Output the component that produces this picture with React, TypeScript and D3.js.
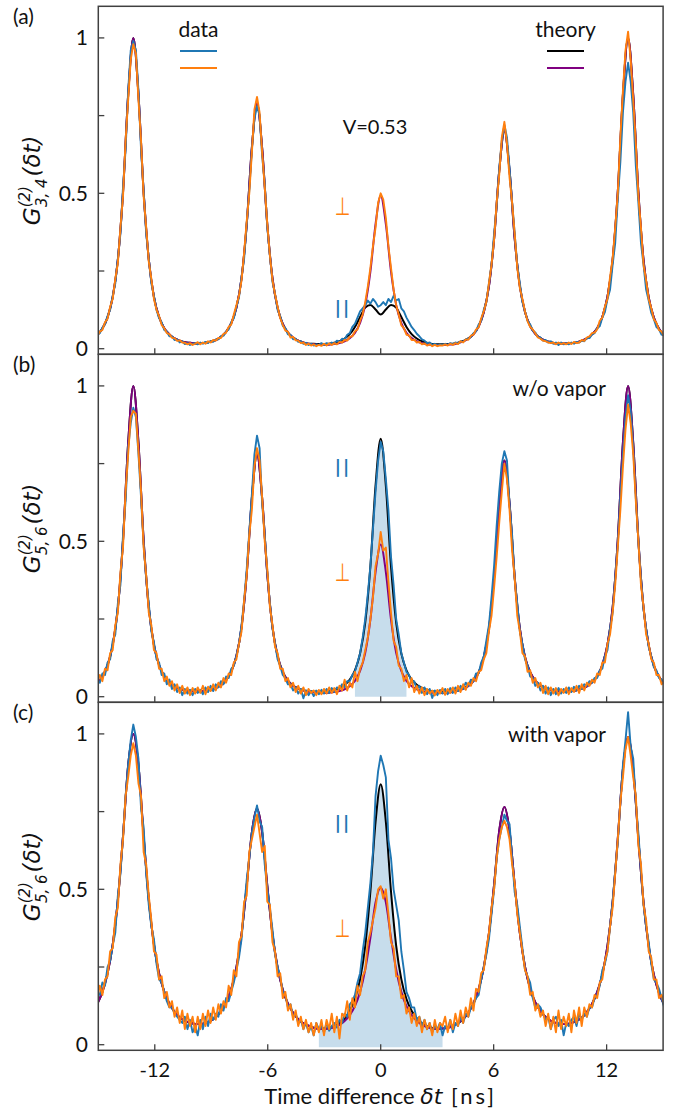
import React from "react";
import * as d3 from "d3";

// Theory curves are sampled every STEP_NS, data every DATA_STEP_NS, both centred on δt = 0
const STEP_NS = 0.27375;
const DATA_STEP_NS = 0.136875;

// ---------- panel (a) ----------
const thA_perp = [
  0.044, 0.065, 0.101, 0.166, 0.286, 0.503, 0.816, 1.0,
  0.817, 0.504, 0.287, 0.167, 0.102, 0.066, 0.046, 0.033, 0.026, 0.021, 0.019, 0.017, 0.018, 0.019, 0.023, 0.028, 0.038, 0.054, 0.082, 0.132, 0.227, 0.399, 0.646,
  0.79,
  0.645, 0.398, 0.226, 0.131, 0.08, 0.052, 0.036, 0.026, 0.02, 0.016, 0.014, 0.012, 0.012, 0.013, 0.015, 0.018, 0.024, 0.034, 0.051, 0.083, 0.141, 0.248, 0.401,
  0.492,
  0.401, 0.248, 0.141, 0.082, 0.051, 0.034, 0.024, 0.018, 0.014, 0.012, 0.012, 0.012, 0.013, 0.014, 0.018, 0.023, 0.032, 0.046, 0.071, 0.117, 0.2, 0.353, 0.572,
  0.701,
  0.573, 0.354, 0.201, 0.118, 0.073, 0.048, 0.034, 0.025, 0.021, 0.017, 0.017, 0.017, 0.018, 0.02, 0.026, 0.033, 0.046, 0.066, 0.102, 0.167, 0.286, 0.504, 0.817,
  1.0,
  0.816, 0.503, 0.285, 0.165, 0.1, 0.064, 0.043,
];
const thA_par = [
  0.044, 0.065, 0.101, 0.166, 0.286, 0.503, 0.816, 1.0,
  0.817, 0.504, 0.287, 0.167, 0.102, 0.066, 0.046, 0.033, 0.026, 0.021, 0.019, 0.017, 0.018, 0.019, 0.023, 0.028, 0.038, 0.054, 0.082, 0.132, 0.227, 0.399, 0.646,
  0.79,
  0.645, 0.398, 0.226, 0.131, 0.08, 0.052, 0.036, 0.026, 0.02, 0.016, 0.016, 0.015, 0.015, 0.016, 0.019, 0.024, 0.033, 0.047, 0.07, 0.102, 0.132, 0.141, 0.126,
  0.11,
  0.126, 0.141, 0.132, 0.102, 0.07, 0.047, 0.033, 0.024, 0.019, 0.015, 0.014, 0.014, 0.015, 0.016, 0.019, 0.025, 0.033, 0.047, 0.072, 0.117, 0.201, 0.353, 0.572,
  0.701,
  0.573, 0.354, 0.201, 0.118, 0.073, 0.048, 0.034, 0.025, 0.021, 0.017, 0.017, 0.017, 0.018, 0.02, 0.026, 0.033, 0.046, 0.066, 0.102, 0.167, 0.286, 0.504, 0.817,
  1.0,
  0.816, 0.503, 0.285, 0.165, 0.1, 0.064, 0.043,
];
const dataA_par = [
  0.045, 0.05, 0.068, 0.078, 0.105, 0.125, 0.17, 0.21, 0.29, 0.37, 0.52, 0.64, 0.83, 0.96,
  0.99,
  0.96, 0.83, 0.64, 0.51, 0.37, 0.29, 0.21, 0.17, 0.125, 0.098, 0.085, 0.06, 0.055, 0.04, 0.04, 0.028, 0.03, 0.02, 0.024, 0.015, 0.018, 0.012, 0.016, 0.018, 0.014, 0.02, 0.016, 0.022, 0.018, 0.025, 0.022, 0.03, 0.03, 0.04, 0.042, 0.055, 0.062, 0.085, 0.098, 0.135, 0.165, 0.23, 0.29, 0.4, 0.51, 0.64, 0.74,
  0.78,
  0.75, 0.62, 0.53, 0.39, 0.3, 0.215, 0.175, 0.125, 0.105, 0.074, 0.066, 0.046, 0.044, 0.03, 0.032, 0.022, 0.024, 0.016, 0.019, 0.012, 0.016, 0.01, 0.014, 0.012, 0.018, 0.012, 0.018, 0.014, 0.02, 0.016, 0.026, 0.022, 0.032, 0.03, 0.045, 0.05, 0.07, 0.08, 0.1, 0.12, 0.13, 0.14, 0.155, 0.145, 0.16, 0.15, 0.135,
  0.14,
  0.15, 0.14, 0.16, 0.15, 0.17, 0.155, 0.16, 0.13, 0.12, 0.1, 0.085, 0.07, 0.06, 0.048, 0.04, 0.03, 0.026, 0.018, 0.02, 0.012, 0.016, 0.01, 0.014, 0.012, 0.016, 0.012, 0.018, 0.014, 0.02, 0.017, 0.024, 0.022, 0.03, 0.032, 0.038, 0.05, 0.056, 0.078, 0.09, 0.125, 0.15, 0.21, 0.27, 0.37, 0.46, 0.58, 0.67,
  0.72,
  0.68, 0.58, 0.47, 0.37, 0.27, 0.21, 0.15, 0.12, 0.09, 0.078, 0.058, 0.052, 0.038, 0.036, 0.026, 0.028, 0.02, 0.024, 0.016, 0.02, 0.012, 0.02, 0.014, 0.018, 0.014, 0.02, 0.016, 0.022, 0.02, 0.026, 0.024, 0.034, 0.034, 0.046, 0.05, 0.066, 0.072, 0.1, 0.118, 0.16, 0.19, 0.27, 0.34, 0.48, 0.6, 0.76, 0.86,
  0.92,
  0.86, 0.76, 0.59, 0.47, 0.34, 0.27, 0.19, 0.155, 0.115, 0.095, 0.07, 0.062, 0.045, 0.042,
];
const dataA_perp = [
  0.04, 0.055, 0.06, 0.085, 0.096, 0.135, 0.16, 0.225, 0.275, 0.39, 0.49, 0.67, 0.8, 0.93,
  0.98,
  0.95, 0.8, 0.67, 0.49, 0.39, 0.28, 0.225, 0.16, 0.125, 0.105, 0.076, 0.066, 0.05, 0.047, 0.035, 0.034, 0.025, 0.027, 0.02, 0.019, 0.014, 0.018, 0.012, 0.016, 0.021, 0.014, 0.02, 0.016, 0.024, 0.02, 0.028, 0.026, 0.035, 0.034, 0.048, 0.052, 0.07, 0.078, 0.11, 0.14, 0.17, 0.22, 0.31, 0.41, 0.5, 0.63, 0.77,
  0.81,
  0.76, 0.63, 0.52, 0.4, 0.3, 0.22, 0.175, 0.135, 0.098, 0.077, 0.058, 0.055, 0.036, 0.038, 0.027, 0.026, 0.018, 0.02, 0.012, 0.016, 0.01, 0.014, 0.008, 0.012, 0.009, 0.016, 0.01, 0.017, 0.012, 0.018, 0.014, 0.022, 0.02, 0.028, 0.026, 0.038, 0.04, 0.056, 0.062, 0.09, 0.11, 0.15, 0.2, 0.26, 0.33, 0.39, 0.47,
  0.5,
  0.48, 0.42, 0.33, 0.26, 0.19, 0.14, 0.11, 0.075, 0.066, 0.045, 0.043, 0.028, 0.029, 0.02, 0.022, 0.014, 0.017, 0.01, 0.014, 0.008, 0.012, 0.008, 0.011, 0.01, 0.014, 0.01, 0.016, 0.012, 0.018, 0.015, 0.024, 0.02, 0.03, 0.029, 0.042, 0.045, 0.062, 0.068, 0.098, 0.12, 0.15, 0.21, 0.27, 0.35, 0.47, 0.56, 0.68,
  0.73,
  0.66, 0.55, 0.47, 0.37, 0.26, 0.195, 0.16, 0.12, 0.088, 0.07, 0.062, 0.05, 0.036, 0.032, 0.026, 0.024, 0.02, 0.018, 0.02, 0.014, 0.02, 0.015, 0.018, 0.014, 0.02, 0.015, 0.022, 0.018, 0.02, 0.028, 0.025, 0.036, 0.04, 0.05, 0.052, 0.062, 0.09, 0.1, 0.135, 0.16, 0.23, 0.29, 0.39, 0.5, 0.68, 0.83, 0.96,
  1.02,
  0.93, 0.8, 0.66, 0.49, 0.39, 0.27, 0.22, 0.16, 0.13, 0.095, 0.083, 0.06, 0.055, 0.04,
];

// ---------- panel (b) ----------
const thB_perp = [
  0.044, 0.065, 0.101, 0.166, 0.286, 0.503, 0.816, 1.0,
  0.817, 0.504, 0.287, 0.167, 0.102, 0.066, 0.046, 0.033, 0.026, 0.021, 0.019, 0.017, 0.018, 0.019, 0.022, 0.028, 0.037, 0.053, 0.081, 0.131, 0.224, 0.394, 0.638,
  0.78,
  0.637, 0.393, 0.223, 0.13, 0.079, 0.051, 0.035, 0.026, 0.02, 0.016, 0.014, 0.012, 0.012, 0.013, 0.015, 0.018, 0.024, 0.034, 0.051, 0.083, 0.141, 0.248, 0.401,
  0.49,
  0.401, 0.248, 0.141, 0.083, 0.051, 0.034, 0.024, 0.018, 0.015, 0.013, 0.012, 0.012, 0.013, 0.015, 0.019, 0.025, 0.034, 0.05, 0.077, 0.127, 0.218, 0.383, 0.621,
  0.76,
  0.622, 0.384, 0.219, 0.128, 0.079, 0.052, 0.036, 0.027, 0.022, 0.018, 0.017, 0.017, 0.018, 0.021, 0.026, 0.033, 0.046, 0.066, 0.102, 0.167, 0.286, 0.504, 0.817,
  1.0,
  0.816, 0.503, 0.285, 0.165, 0.1, 0.064, 0.043,
];
const thB_par = [
  0.044, 0.065, 0.101, 0.166, 0.286, 0.503, 0.816, 1.0,
  0.817, 0.504, 0.287, 0.167, 0.102, 0.066, 0.046, 0.033, 0.026, 0.021, 0.019, 0.017, 0.018, 0.019, 0.022, 0.028, 0.037, 0.053, 0.081, 0.131, 0.224, 0.394, 0.638,
  0.78,
  0.638, 0.394, 0.224, 0.131, 0.08, 0.052, 0.036, 0.027, 0.021, 0.018, 0.016, 0.016, 0.016, 0.018, 0.022, 0.028, 0.038, 0.055, 0.085, 0.139, 0.238, 0.419, 0.679,
  0.83,
  0.678, 0.419, 0.238, 0.139, 0.085, 0.055, 0.038, 0.028, 0.022, 0.018, 0.016, 0.016, 0.016, 0.017, 0.021, 0.026, 0.036, 0.051, 0.078, 0.127, 0.218, 0.384, 0.621,
  0.76,
  0.622, 0.384, 0.219, 0.128, 0.079, 0.052, 0.036, 0.027, 0.022, 0.018, 0.017, 0.017, 0.018, 0.021, 0.026, 0.033, 0.046, 0.066, 0.102, 0.167, 0.286, 0.504, 0.817,
  1.0,
  0.816, 0.503, 0.285, 0.165, 0.1, 0.064, 0.043,
];
const dataB_par = [
  0.05, 0.045, 0.075, 0.07, 0.11, 0.12, 0.18, 0.2, 0.3, 0.36, 0.52, 0.63, 0.8, 0.88,
  0.93,
  0.9, 0.78, 0.64, 0.49, 0.38, 0.3, 0.21, 0.175, 0.12, 0.11, 0.07, 0.075, 0.04, 0.055, 0.025, 0.04, 0.015, 0.03, 0.005, 0.025, 0.01, 0.022, 0.005, 0.025, 0.012, 0.022, 0.008, 0.03, 0.015, 0.035, 0.018, 0.04, 0.03, 0.05, 0.04, 0.065, 0.06, 0.09, 0.1, 0.13, 0.17, 0.23, 0.31, 0.41, 0.53, 0.65, 0.78,
  0.84,
  0.8, 0.62, 0.52, 0.4, 0.3, 0.22, 0.17, 0.12, 0.1, 0.07, 0.06, 0.04, 0.04, 0.02, 0.03, 0.01, 0.025, -0.005, 0.02, 0.005, 0.018, 0.002, 0.02, 0.008, 0.022, 0.01, 0.025, 0.012, 0.028, 0.015, 0.03, 0.025, 0.04, 0.03, 0.05, 0.05, 0.07, 0.08, 0.11, 0.14, 0.19, 0.25, 0.33, 0.42, 0.54, 0.66, 0.76,
  0.82,
  0.79, 0.7, 0.6, 0.45, 0.36, 0.25, 0.2, 0.14, 0.11, 0.08, 0.07, 0.045, 0.05, 0.025, 0.035, 0.012, 0.03, 0.008, 0.025, -0.004, 0.02, 0.005, 0.022, 0.01, 0.025, 0.008, 0.028, 0.012, 0.03, 0.018, 0.035, 0.025, 0.045, 0.035, 0.055, 0.05, 0.075, 0.075, 0.11, 0.13, 0.18, 0.23, 0.32, 0.42, 0.55, 0.66, 0.75,
  0.79,
  0.76, 0.62, 0.52, 0.38, 0.3, 0.21, 0.17, 0.12, 0.1, 0.065, 0.06, 0.035, 0.045, 0.02, 0.035, 0.01, 0.03, 0.005, 0.025, 0.008, 0.028, 0.01, 0.025, 0.012, 0.03, 0.015, 0.032, 0.02, 0.035, 0.025, 0.04, 0.035, 0.05, 0.045, 0.06, 0.06, 0.085, 0.09, 0.13, 0.15, 0.22, 0.27, 0.38, 0.49, 0.64, 0.78, 0.9,
  0.97,
  0.92, 0.8, 0.64, 0.5, 0.38, 0.28, 0.22, 0.16, 0.13, 0.095, 0.085, 0.06, 0.055, 0.04,
];
const dataB_perp = [
  0.045, 0.07, 0.05, 0.09, 0.085, 0.14, 0.15, 0.23, 0.27, 0.4, 0.48, 0.66, 0.78, 0.9,
  0.92,
  0.91, 0.79, 0.66, 0.48, 0.39, 0.27, 0.23, 0.15, 0.14, 0.09, 0.09, 0.05, 0.065, 0.035, 0.05, 0.02, 0.04, 0.012, 0.035, 0.01, 0.03, 0.005, 0.028, 0.01, 0.03, 0.012, 0.035, 0.008, 0.032, 0.018, 0.04, 0.02, 0.045, 0.03, 0.06, 0.045, 0.075, 0.07, 0.11, 0.12, 0.17, 0.21, 0.31, 0.39, 0.52, 0.6, 0.74,
  0.8,
  0.76, 0.64, 0.5, 0.41, 0.29, 0.23, 0.16, 0.14, 0.09, 0.09, 0.05, 0.06, 0.03, 0.045, 0.015, 0.035, 0.01, 0.03, 0.005, 0.025, 0.012, 0.02, 0.005, 0.022, 0.008, 0.025, 0.01, 0.03, 0.012, 0.028, 0.008, 0.035, 0.02, 0.055, 0.02, 0.045, 0.03, 0.08, 0.05, 0.09, 0.11, 0.15, 0.19, 0.25, 0.32, 0.42, 0.46,
  0.53,
  0.47, 0.48, 0.37, 0.27, 0.18, 0.16, 0.1, 0.09, 0.05, 0.07, 0.03, 0.06, 0.015, 0.035, 0.01, 0.03, 0.005, 0.025, 0.01, 0.02, 0.004, 0.022, 0.01, 0.028, 0.006, 0.025, 0.012, 0.03, 0.01, 0.035, 0.015, 0.04, 0.022, 0.045, 0.035, 0.06, 0.05, 0.08, 0.085, 0.12, 0.14, 0.21, 0.26, 0.35, 0.45, 0.56, 0.66,
  0.75,
  0.7, 0.6, 0.47, 0.38, 0.26, 0.21, 0.14, 0.13, 0.08, 0.085, 0.045, 0.06, 0.03, 0.045, 0.012, 0.035, 0.008, 0.03, 0.01, 0.028, 0.004, 0.025, 0.012, 0.03, 0.008, 0.028, 0.015, 0.035, 0.012, 0.04, 0.02, 0.045, 0.035, 0.055, 0.045, 0.075, 0.07, 0.11, 0.11, 0.17, 0.2, 0.27, 0.36, 0.48, 0.6, 0.74, 0.86,
  0.94,
  0.88, 0.78, 0.63, 0.5, 0.36, 0.29, 0.2, 0.17, 0.12, 0.11, 0.07, 0.07, 0.04, 0.05,
];

// ---------- panel (c) ----------
const thC_perp = [
  0.131, 0.17, 0.229, 0.322, 0.465, 0.671, 0.899, 1.0,
  0.9, 0.672, 0.467, 0.323, 0.229, 0.171, 0.132, 0.106, 0.088, 0.077, 0.071, 0.067, 0.067, 0.07, 0.077, 0.089, 0.108, 0.136, 0.179, 0.249, 0.356, 0.511, 0.683,
  0.76,
  0.683, 0.511, 0.356, 0.248, 0.177, 0.132, 0.103, 0.082, 0.069, 0.061, 0.054, 0.051, 0.051, 0.052, 0.056, 0.064, 0.076, 0.095, 0.124, 0.17, 0.242, 0.344, 0.458,
  0.505,
  0.458, 0.344, 0.242, 0.17, 0.124, 0.095, 0.077, 0.064, 0.057, 0.052, 0.051, 0.052, 0.054, 0.06, 0.07, 0.083, 0.103, 0.133, 0.178, 0.249, 0.358, 0.514, 0.688,
  0.765,
  0.688, 0.515, 0.359, 0.251, 0.181, 0.136, 0.108, 0.089, 0.077, 0.07, 0.067, 0.067, 0.07, 0.077, 0.087, 0.105, 0.131, 0.169, 0.226, 0.318, 0.459, 0.662, 0.887,
  0.99,
  0.886, 0.661, 0.458, 0.317, 0.225, 0.167, 0.129,
];
const thC_par = [
  0.131, 0.17, 0.229, 0.322, 0.465, 0.671, 0.899, 1.0,
  0.9, 0.672, 0.467, 0.323, 0.229, 0.171, 0.132, 0.106, 0.088, 0.077, 0.071, 0.067, 0.067, 0.07, 0.077, 0.089, 0.108, 0.136, 0.179, 0.249, 0.356, 0.511, 0.683,
  0.76,
  0.683, 0.511, 0.356, 0.248, 0.177, 0.132, 0.103, 0.082, 0.069, 0.061, 0.055, 0.052, 0.052, 0.054, 0.06, 0.069, 0.084, 0.109, 0.147, 0.211, 0.319, 0.493, 0.716,
  0.838,
  0.717, 0.493, 0.319, 0.211, 0.147, 0.109, 0.085, 0.069, 0.06, 0.054, 0.052, 0.052, 0.055, 0.061, 0.069, 0.082, 0.103, 0.133, 0.178, 0.249, 0.358, 0.514, 0.688,
  0.765,
  0.688, 0.515, 0.359, 0.251, 0.181, 0.136, 0.108, 0.089, 0.077, 0.07, 0.067, 0.067, 0.07, 0.077, 0.087, 0.105, 0.131, 0.169, 0.226, 0.318, 0.459, 0.662, 0.887,
  0.99,
  0.886, 0.661, 0.458, 0.317, 0.225, 0.167, 0.129,
];
const dataC_par = [
  0.17, 0.16, 0.2, 0.19, 0.25, 0.27, 0.32, 0.36, 0.48, 0.55, 0.67, 0.8, 0.9, 0.98,
  1.03,
  0.99, 0.92, 0.76, 0.7, 0.55, 0.45, 0.38, 0.34, 0.26, 0.21, 0.2, 0.17, 0.14, 0.12, 0.12, 0.1, 0.09, 0.08, 0.07, 0.09, 0.05, 0.08, 0.04, 0.06, 0.03, 0.08, 0.05, 0.09, 0.06, 0.1, 0.08, 0.1, 0.09, 0.13, 0.11, 0.15, 0.14, 0.17, 0.2, 0.24, 0.28, 0.34, 0.44, 0.53, 0.6, 0.68, 0.73,
  0.77,
  0.72, 0.7, 0.58, 0.5, 0.44, 0.37, 0.29, 0.25, 0.22, 0.17, 0.16, 0.12, 0.13, 0.09, 0.1, 0.07, 0.08, 0.05, 0.07, 0.04, 0.06, 0.03, 0.07, 0.05, 0.06, 0.04, 0.07, 0.045, 0.06, 0.07, 0.055, 0.08, 0.07, 0.1, 0.09, 0.13, 0.14, 0.16, 0.2, 0.23, 0.3, 0.36, 0.44, 0.52, 0.62, 0.8, 0.88,
  0.93,
  0.9, 0.86, 0.66, 0.6, 0.5, 0.45, 0.4, 0.3, 0.24, 0.17, 0.15, 0.12, 0.12, 0.08, 0.09, 0.06, 0.08, 0.05, 0.07, 0.04, 0.06, 0.05, 0.07, 0.03, 0.06, 0.05, 0.08, 0.04, 0.07, 0.06, 0.09, 0.07, 0.1, 0.09, 0.12, 0.13, 0.15, 0.16, 0.21, 0.25, 0.29, 0.34, 0.42, 0.5, 0.6, 0.66, 0.7,
  0.74,
  0.72, 0.71, 0.6, 0.49, 0.45, 0.38, 0.31, 0.24, 0.22, 0.2, 0.15, 0.12, 0.13, 0.12, 0.1, 0.08, 0.09, 0.05, 0.08, 0.09, 0.06, 0.08, 0.03, 0.07, 0.06, 0.08, 0.09, 0.06, 0.1, 0.08, 0.1, 0.09, 0.12, 0.12, 0.15, 0.16, 0.19, 0.24, 0.26, 0.3, 0.38, 0.46, 0.56, 0.65, 0.78, 0.9, 0.98,
  1.07,
  0.96, 0.92, 0.78, 0.68, 0.56, 0.45, 0.38, 0.33, 0.26, 0.21, 0.2, 0.18, 0.15, 0.12,
];
const dataC_perp = [
  0.15, 0.19, 0.16, 0.21, 0.22, 0.3, 0.31, 0.41, 0.44, 0.58, 0.66, 0.8, 0.86, 0.93,
  0.97,
  0.93, 0.84, 0.8, 0.62, 0.58, 0.48, 0.4, 0.3, 0.29, 0.21, 0.22, 0.15, 0.17, 0.12, 0.14, 0.09, 0.12, 0.07, 0.11, 0.05, 0.1, 0.06, 0.09, 0.04, 0.09, 0.05, 0.1, 0.06, 0.11, 0.07, 0.12, 0.08, 0.13, 0.1, 0.14, 0.12, 0.19, 0.16, 0.24, 0.22, 0.33, 0.35, 0.46, 0.48, 0.62, 0.66, 0.7,
  0.74,
  0.68, 0.62, 0.64, 0.46, 0.45, 0.33, 0.3, 0.22, 0.23, 0.15, 0.17, 0.11, 0.13, 0.08, 0.11, 0.06, 0.09, 0.05, 0.08, 0.04, 0.07, 0.03, 0.07, 0.04, 0.08, 0.03, 0.08, 0.05, 0.1, 0.04, 0.09, 0.02, 0.1, 0.09, 0.14, 0.08, 0.15, 0.12, 0.19, 0.16, 0.22, 0.24, 0.33, 0.36, 0.4, 0.44, 0.5,
  0.51,
  0.47, 0.5, 0.42, 0.33, 0.31, 0.22, 0.22, 0.15, 0.16, 0.1, 0.12, 0.07, 0.1, 0.06, 0.09, 0.04, 0.08, 0.05, 0.07, 0.03, 0.08, 0.04, 0.07, 0.06, 0.09, 0.04, 0.08, 0.05, 0.1, 0.06, 0.11, 0.07, 0.12, 0.09, 0.15, 0.11, 0.18, 0.17, 0.23, 0.24, 0.31, 0.36, 0.44, 0.5, 0.6, 0.66, 0.7,
  0.72,
  0.7, 0.66, 0.58, 0.52, 0.42, 0.36, 0.3, 0.24, 0.22, 0.16, 0.17, 0.11, 0.13, 0.09, 0.11, 0.06, 0.1, 0.05, 0.09, 0.04, 0.11, 0.05, 0.09, 0.06, 0.1, 0.04, 0.11, 0.07, 0.12, 0.06, 0.12, 0.09, 0.13, 0.12, 0.16, 0.15, 0.2, 0.21, 0.27, 0.3, 0.38, 0.44, 0.55, 0.66, 0.78, 0.86, 0.95,
  0.99,
  0.93, 0.86, 0.8, 0.64, 0.58, 0.45, 0.4, 0.3, 0.28, 0.21, 0.21, 0.15, 0.16, 0.13,
];

// shaded window (half width in ns) and its lower edge, per panel
const FILL_HALF_WIDTH = [0, 1.369, 3.285];
const FILL_BASE = [0, 0, -0.008];

// axes
const X_DOMAIN: [number, number] = [-15, 15];
const X_TICKS = [-12, -6, 0, 6, 12];
const X_TICK_LABELS = ["-12", "-6", "0", "6", "12"];
const Y_DOMAIN: [number, number] = [-0.018, 1.1017];
const Y_TICKS = [0, 0.25, 0.5, 0.75, 1];
const Y_LABEL_VALUES = [0, 0.5, 1];
const Y_LABEL_TEXT = ["0", "0.5", "1"];
const PANEL_TAGS = ["(a)", "(b)", "(c)"];
const Y_SUBSCRIPTS = ["3, 4", "5, 6", "5, 6"];
const CONDITION_TEXT = ["", "w/o vapor", "with vapor"];

const COL_PAR = "#1f77b4";
const COL_PERP = "#ff7f0e";
const COL_TH_PAR = "#000000";
const COL_TH_PERP = "#800080";
const COL_FILL = "rgb(199,221,236)";
const COL_AXIS = "#404040";

const W = 678;
const H = 1113;
const LEFT = 98.3;
const RIGHT = 663.1;
const TOP0 = 6.3;
const PANEL_H = 348;

const SANS = "Lato, 'Open Sans', sans-serif";
const MATH = "'DejaVu Sans', sans-serif";

const PAR_MARK_Y = [314, 473, 829];
const PERP_MARK_Y = [215, 581, 937];
const COND_Y = [0, 396, 742];

function centredTimes(n: number, step: number) {
  return d3.range(n).map((i) => (i - (n - 1) / 2) * step);
}

export default function App() {
  const x = d3.scaleLinear().domain(X_DOMAIN).range([LEFT, RIGHT]);
  const panels = [
    { dPar: dataA_par, dPerp: dataA_perp, tPar: thA_par, tPerp: thA_perp },
    { dPar: dataB_par, dPerp: dataB_perp, tPar: thB_par, tPerp: thB_perp },
    { dPar: dataC_par, dPerp: dataC_perp, tPar: thC_par, tPerp: thC_perp },
  ];

  return (
    <svg
      width={W}
      height={H}
      style={{ position: "absolute", left: 0, top: 0, display: "block", background: "#fff" }}
      fontFamily={SANS}
    >
      <defs>
        {panels.map((_, i) => (
          <clipPath id={`clip${i}`} key={i}>
            <rect x={LEFT} y={TOP0 + i * PANEL_H} width={RIGHT - LEFT} height={PANEL_H} />
          </clipPath>
        ))}
      </defs>
      {panels.map((p, i) => {
        const top = TOP0 + i * PANEL_H;
        const bottom = top + PANEL_H;
        const y = d3.scaleLinear().domain(Y_DOMAIN).range([bottom, top]);
        const tTh = centredTimes(p.tPar.length, STEP_NS);
        const tThPerp = centredTimes(p.tPerp.length, STEP_NS);
        const tDPar = centredTimes(p.dPar.length, DATA_STEP_NS);
        const tDPerp = centredTimes(p.dPerp.length, DATA_STEP_NS);
        const smooth = (vals: number[], ts: number[]) =>
          d3
            .line<number>()
            .x((_, j) => x(ts[j]))
            .y((d) => y(d))
            .curve(d3.curveMonotoneX)(vals) || "";
        const jag = (vals: number[], ts: number[]) =>
          d3
            .line<number>()
            .x((_, j) => x(ts[j]))
            .y((d) => y(d))(vals) || "";
        let fillPath: string | null = null;
        if (FILL_HALF_WIDTH[i] > 0) {
          const idx = tTh
            .map((_, j) => j)
            .filter((j) => Math.abs(tTh[j]) <= FILL_HALF_WIDTH[i] + 1e-3);
          fillPath = d3
            .area<number>()
            .x((j) => x(tTh[j]))
            .y0(y(FILL_BASE[i]))
            .y1((j) => y(p.tPar[j]))
            .curve(d3.curveMonotoneX)(idx);
        }
        const cy = (top + bottom) / 2;
        return (
          <g key={i}>
            <g clipPath={`url(#clip${i})`}>
              {fillPath && <path d={fillPath} fill={COL_FILL} stroke="none" />}
              <path d={smooth(p.tPar, tTh)} fill="none" stroke={COL_TH_PAR} strokeWidth={2} />
              <path d={smooth(p.tPerp, tThPerp)} fill="none" stroke={COL_TH_PERP} strokeWidth={2} />
              <path d={jag(p.dPar, tDPar)} fill="none" stroke={COL_PAR} strokeWidth={1.9} strokeLinejoin="round" />
              <path d={jag(p.dPerp, tDPerp)} fill="none" stroke={COL_PERP} strokeWidth={1.9} strokeLinejoin="round" />
            </g>
            <rect x={LEFT} y={top} width={RIGHT - LEFT} height={PANEL_H} fill="none" stroke={COL_AXIS} strokeWidth={1.5} />
            {X_TICKS.map((t) => (
              <line key={`xt${t}`} x1={x(t)} x2={x(t)} y1={bottom} y2={bottom - 6} stroke={COL_AXIS} strokeWidth={1.3} />
            ))}
            {Y_TICKS.map((v) => (
              <line key={`yt${v}`} x1={LEFT} x2={LEFT + 6} y1={y(v)} y2={y(v)} stroke={COL_AXIS} strokeWidth={1.3} />
            ))}
            {Y_LABEL_VALUES.map((v, k) => (
              <text key={`yl${v}`} x={88} y={y(v) + 7.5} fontSize={21} textAnchor="end" fill="#111">
                {Y_LABEL_TEXT[k]}
              </text>
            ))}
            <text x={13} y={top + 18} fontSize={21} fill="#111">
              {PANEL_TAGS[i]}
            </text>
            <text
              transform={`translate(40,${cy}) rotate(-90)`}
              textAnchor="middle"
              fontFamily={MATH}
              fontStyle="italic"
              fontSize={23}
              fill="#111"
            >
              <tspan>G</tspan>
              <tspan fontSize={15} dy={-10}>(2)</tspan>
              <tspan fontSize={15} dx={-21} dy={17}>{Y_SUBSCRIPTS[i]}</tspan>
              <tspan dx={2} dy={-7}>(δt)</tspan>
            </text>
            <text
              x={343}
              y={PAR_MARK_Y[i]}
              fontFamily={MATH}
              fontWeight="bold"
              fontSize={17}
              letterSpacing={2}
              textAnchor="middle"
              fill={COL_PAR}
            >
              ||
            </text>
            <text
              transform={`translate(342.5,${PERP_MARK_Y[i]}) scale(0.75,1.05)`}
              fontFamily={MATH}
              fontSize={24}
              textAnchor="middle"
              fill={COL_PERP}
            >
              ⊥
            </text>
            {CONDITION_TEXT[i] && (
              <text x={606} y={COND_Y[i]} fontSize={21} textAnchor="end" fill="#111">
                {CONDITION_TEXT[i]}
              </text>
            )}
          </g>
        );
      })}

      {/* legend */}
      <text x={198.5} y={37} fontSize={21} textAnchor="middle" fill="#111">data</text>
      <line x1={180} x2={217} y1={51} y2={51} stroke={COL_PAR} strokeWidth={2} />
      <line x1={180} x2={217} y1={68} y2={68} stroke={COL_PERP} strokeWidth={2} />
      <text x={565.5} y={37} fontSize={21} textAnchor="middle" fill="#111">theory</text>
      <line x1={547} x2={584} y1={51} y2={51} stroke={COL_TH_PAR} strokeWidth={2} />
      <line x1={547} x2={584} y1={68} y2={68} stroke={COL_TH_PERP} strokeWidth={2} />
      <text x={375} y={134} fontSize={20} textAnchor="middle" fill="#111">V=0.53</text>

      {/* x axis */}
      {X_TICKS.map((t, k) => (
        <text key={`xl${t}`} x={x(t)} y={1077} fontSize={20} textAnchor="middle" fill="#111">
          {X_TICK_LABELS[k]}
        </text>
      ))}
      <text x={(LEFT + RIGHT) / 2} y={1104} fontSize={22} textAnchor="middle" fill="#111">
        <tspan>Time difference </tspan>
        <tspan fontFamily={MATH} fontStyle="italic">δt</tspan>
        <tspan letterSpacing={3}> [ns]</tspan>
      </text>
    </svg>
  );
}
